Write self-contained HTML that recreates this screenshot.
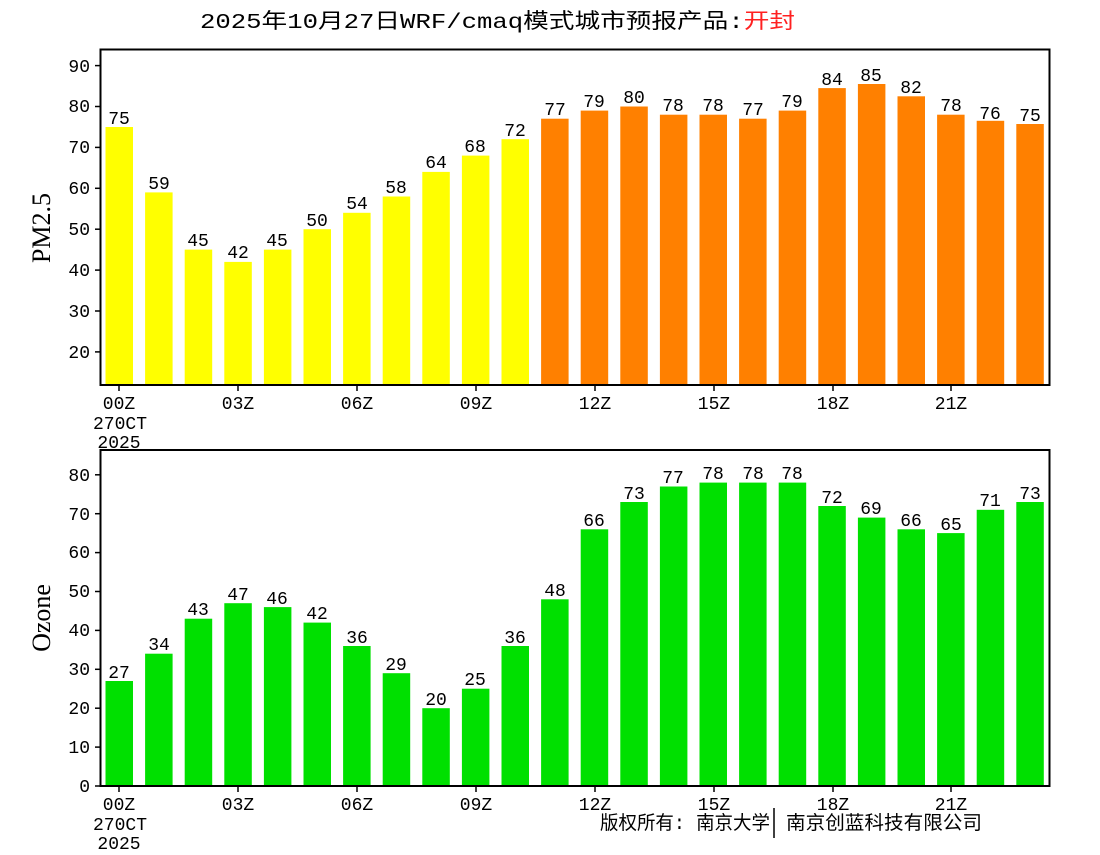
<!DOCTYPE html>
<html><head><meta charset="utf-8"><style>
html,body{margin:0;padding:0;background:#fff;}
svg text{font-family:"Liberation Mono","Noto Sans CJK SC",monospace;}
svg text.ser{font-family:"Liberation Serif",serif;}
</style></head><body>
<svg width="1100" height="850" xmlns="http://www.w3.org/2000/svg">
<text x="200" y="28" font-size="21" textLength="595" lengthAdjust="spacingAndGlyphs">2025年10月27日WRF/cmaq模式城市预报产品:<tspan fill="#ff2020">开封</tspan></text>

<g fill="#ffff00">
<rect x="105.5" y="127" width="27.5" height="258"/>
<rect x="145.1" y="192.4" width="27.5" height="192.6"/>
<rect x="184.7" y="249.6" width="27.5" height="135.4"/>
<rect x="224.3" y="261.9" width="27.5" height="123.1"/>
<rect x="263.9" y="249.6" width="27.5" height="135.4"/>
<rect x="303.5" y="229.2" width="27.5" height="155.8"/>
<rect x="343.1" y="212.8" width="27.5" height="172.2"/>
<rect x="382.7" y="196.5" width="27.5" height="188.5"/>
<rect x="422.3" y="171.9" width="27.5" height="213.1"/>
<rect x="461.9" y="155.6" width="27.5" height="229.4"/>
<rect x="501.5" y="139.2" width="27.5" height="245.8"/>
</g>
<g fill="#ff8000">
<rect x="541.1" y="118.7" width="27.5" height="266.3"/>
<rect x="580.7" y="110.6" width="27.5" height="274.4"/>
<rect x="620.3" y="106.5" width="27.5" height="278.5"/>
<rect x="659.9" y="114.7" width="27.5" height="270.3"/>
<rect x="699.5" y="114.7" width="27.5" height="270.3"/>
<rect x="739.1" y="118.7" width="27.5" height="266.3"/>
<rect x="778.7" y="110.6" width="27.5" height="274.4"/>
<rect x="818.3" y="88.1" width="27.5" height="296.9"/>
<rect x="857.9" y="84" width="27.5" height="301"/>
<rect x="897.5" y="96.3" width="27.5" height="288.7"/>
<rect x="937.1" y="114.7" width="27.5" height="270.3"/>
<rect x="976.7" y="120.8" width="27.5" height="264.2"/>
<rect x="1016.3" y="124" width="27.5" height="261"/>
</g>
<g font-size="18" text-anchor="middle">
<text x="119" y="124">75</text><text x="159" y="189">59</text><text x="198" y="246">45</text><text x="238" y="258">42</text>
<text x="277" y="246">45</text><text x="317" y="226">50</text><text x="357" y="209">54</text><text x="396" y="193">58</text>
<text x="436" y="168">64</text><text x="475" y="152">68</text><text x="515" y="136">72</text><text x="555" y="115">77</text>
<text x="594" y="107">79</text><text x="634" y="103">80</text><text x="673" y="111">78</text><text x="713" y="111">78</text>
<text x="753" y="115">77</text><text x="792" y="107">79</text><text x="832" y="85">84</text><text x="871" y="81">85</text>
<text x="911" y="93">82</text><text x="951" y="111">78</text><text x="990" y="119">76</text><text x="1030" y="121">75</text>
</g>
<rect x="100.5" y="49.5" width="949" height="335.5" fill="none" stroke="#000" stroke-width="2"/>
<g stroke="#000" stroke-width="1.5">
<line x1="95" y1="351.9" x2="100" y2="351.9"/><line x1="95" y1="311" x2="100" y2="311"/><line x1="95" y1="270.1" x2="100" y2="270.1"/><line x1="95" y1="229.2" x2="100" y2="229.2"/>
<line x1="95" y1="188.3" x2="100" y2="188.3"/><line x1="95" y1="147.4" x2="100" y2="147.4"/><line x1="95" y1="106.5" x2="100" y2="106.5"/><line x1="95" y1="65.6" x2="100" y2="65.6"/>
<line x1="119" y1="385" x2="119" y2="391"/><line x1="238" y1="385" x2="238" y2="391"/><line x1="357" y1="385" x2="357" y2="391"/><line x1="476" y1="385" x2="476" y2="391"/>
<line x1="595" y1="385" x2="595" y2="391"/><line x1="714" y1="385" x2="714" y2="391"/><line x1="833" y1="385" x2="833" y2="391"/><line x1="951" y1="385" x2="951" y2="391"/>
</g>
<g font-size="18" text-anchor="end">
<text x="90" y="358">20</text><text x="90" y="317">30</text><text x="90" y="276">40</text><text x="90" y="235">50</text>
<text x="90" y="194">60</text><text x="90" y="153">70</text><text x="90" y="112">80</text><text x="90" y="72">90</text>
</g>
<g font-size="18" text-anchor="middle">
<text x="119" y="409">00Z</text><text x="238" y="409">03Z</text><text x="357" y="409">06Z</text><text x="476" y="409">09Z</text>
<text x="595" y="409">12Z</text><text x="714" y="409">15Z</text><text x="833" y="409">18Z</text><text x="951" y="409">21Z</text>
<text x="120" y="429">270CT</text><text x="119" y="448">2025</text>
</g>
<text class="ser" transform="translate(50,228) rotate(-90)" font-size="26" text-anchor="middle">PM2.5</text>

<g fill="#00e000">
<rect x="105.5" y="681" width="27.5" height="105"/>
<rect x="145.1" y="653.7" width="27.5" height="132.3"/>
<rect x="184.7" y="618.7" width="27.5" height="167.3"/>
<rect x="224.3" y="603.2" width="27.5" height="182.8"/>
<rect x="263.9" y="607.1" width="27.5" height="178.9"/>
<rect x="303.5" y="622.6" width="27.5" height="163.4"/>
<rect x="343.1" y="646" width="27.5" height="140"/>
<rect x="382.7" y="673.2" width="27.5" height="112.8"/>
<rect x="422.3" y="708.2" width="27.5" height="77.8"/>
<rect x="461.9" y="688.7" width="27.5" height="97.3"/>
<rect x="501.5" y="646" width="27.5" height="140"/>
<rect x="541.1" y="599.3" width="27.5" height="186.7"/>
<rect x="580.7" y="529.3" width="27.5" height="256.7"/>
<rect x="620.3" y="502" width="27.5" height="284"/>
<rect x="659.9" y="486.5" width="27.5" height="299.5"/>
<rect x="699.5" y="482.6" width="27.5" height="303.4"/>
<rect x="739.1" y="482.6" width="27.5" height="303.4"/>
<rect x="778.7" y="482.6" width="27.5" height="303.4"/>
<rect x="818.3" y="506" width="27.5" height="280"/>
<rect x="857.9" y="517.6" width="27.5" height="268.4"/>
<rect x="897.5" y="529.3" width="27.5" height="256.7"/>
<rect x="937.1" y="533.1" width="27.5" height="252.9"/>
<rect x="976.7" y="509.8" width="27.5" height="276.2"/>
<rect x="1016.3" y="502" width="27.5" height="284"/>
</g>
<g font-size="18" text-anchor="middle">
<text x="119" y="678">27</text><text x="159" y="650">34</text><text x="198" y="615">43</text><text x="238" y="600">47</text>
<text x="277" y="604">46</text><text x="317" y="619">42</text><text x="357" y="643">36</text><text x="396" y="670">29</text>
<text x="436" y="705">20</text><text x="475" y="685">25</text><text x="515" y="643">36</text><text x="555" y="596">48</text>
<text x="594" y="526">66</text><text x="634" y="499">73</text><text x="673" y="483">77</text><text x="713" y="479">78</text>
<text x="753" y="479">78</text><text x="792" y="479">78</text><text x="832" y="503">72</text><text x="871" y="514">69</text>
<text x="911" y="526">66</text><text x="951" y="530">65</text><text x="990" y="506">71</text><text x="1030" y="499">73</text>
</g>
<rect x="100.5" y="450" width="949" height="336" fill="none" stroke="#000" stroke-width="2"/>
<g stroke="#000" stroke-width="1.5">
<line x1="95" y1="786" x2="100" y2="786"/><line x1="95" y1="747.1" x2="100" y2="747.1"/><line x1="95" y1="708.2" x2="100" y2="708.2"/><line x1="95" y1="669.3" x2="100" y2="669.3"/>
<line x1="95" y1="630.4" x2="100" y2="630.4"/><line x1="95" y1="591.5" x2="100" y2="591.5"/><line x1="95" y1="552.6" x2="100" y2="552.6"/><line x1="95" y1="513.7" x2="100" y2="513.7"/><line x1="95" y1="474.8" x2="100" y2="474.8"/>
<line x1="119" y1="786" x2="119" y2="792"/><line x1="238" y1="786" x2="238" y2="792"/><line x1="357" y1="786" x2="357" y2="792"/><line x1="476" y1="786" x2="476" y2="792"/>
<line x1="595" y1="786" x2="595" y2="792"/><line x1="714" y1="786" x2="714" y2="792"/><line x1="833" y1="786" x2="833" y2="792"/><line x1="951" y1="786" x2="951" y2="792"/>
<line x1="774" y1="808" x2="774" y2="838"/>
</g>
<g font-size="18" text-anchor="end">
<text x="90" y="792">0</text><text x="90" y="753">10</text><text x="90" y="714">20</text><text x="90" y="675">30</text><text x="90" y="636">40</text>
<text x="90" y="597">50</text><text x="90" y="558">60</text><text x="90" y="520">70</text><text x="90" y="481">80</text>
</g>
<g font-size="18" text-anchor="middle">
<text x="119" y="810">00Z</text><text x="238" y="810">03Z</text><text x="357" y="810">06Z</text><text x="476" y="810">09Z</text>
<text x="595" y="810">12Z</text><text x="714" y="810">15Z</text><text x="833" y="810">18Z</text><text x="951" y="810">21Z</text>
<text x="120" y="830">270CT</text><text x="119" y="849">2025</text>
</g>
<text x="600" y="829" font-size="19" textLength="170" lengthAdjust="spacingAndGlyphs">版权所有: 南京大学</text>
<text x="786" y="829" font-size="19" textLength="196" lengthAdjust="spacingAndGlyphs">南京创蓝科技有限公司</text>
<text class="ser" transform="translate(50,618) rotate(-90)" font-size="26" text-anchor="middle">Ozone</text>
</svg>
</body></html>
